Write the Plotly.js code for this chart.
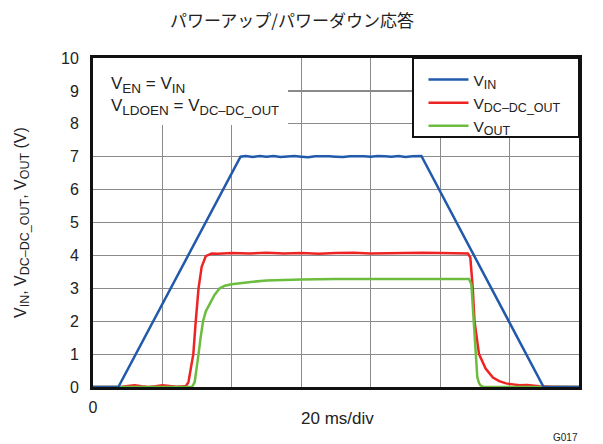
<!DOCTYPE html>
<html>
<head>
<meta charset="utf-8">
<script src="https://cdn.plot.ly/plotly-3.0.1.min.js"></script>
<style>html,body{margin:0;padding:0;background:#fff;}#chart{width:603px;height:444px;}</style>
</head>
<body>
<div id="chart"></div>
<script>
// time in ms (20 ms/div), voltage in V
var vinX = [0, 7.3, 42.5, 44, 46, 48, 50, 52, 54, 56, 58, 60, 62, 64, 66, 68, 70, 72, 74, 76, 78, 80, 82, 84, 86, 88, 90, 92, 94.6, 129.8, 140];
var vinY = [0, 0, 7.0, 7.02, 6.99, 7.02, 7.0, 7.02, 6.99, 7.01, 7.02, 7.0, 6.98, 7.01, 7.02, 7.01, 7.0, 6.99, 7.01, 7.02, 7.01, 7.0, 7.02, 7.01, 7.0, 7.02, 6.99, 7.01, 7.02, 0, 0];

var dcX = [0, 4, 8, 10, 12, 14, 16, 18, 20, 22, 24, 26, 26.8, 27.5, 28.1, 28.9, 29.6, 30.4, 31.3, 32.5, 34.2, 36, 40, 45, 50, 55, 60, 65, 70, 75, 80, 85, 90, 95, 100, 105, 108.0, 108.7, 109.4, 109.9, 111.2, 113.1, 115.2, 117, 119.0, 121, 122.9, 125, 128.6, 132, 140];
var dcY = [0, 0.01, 0, 0.03, 0.05, 0.02, 0, 0.02, 0.05, 0.03, 0.01, 0.02, 0.03, 0.15, 0.5, 1.0, 2.0, 3.0, 3.65, 3.98, 4.06, 4.05, 4.07, 4.06, 4.08, 4.06, 4.07, 4.05, 4.07, 4.08, 4.06, 4.07, 4.06, 4.08, 4.07, 4.06, 4.06, 3.93, 3.0, 2.0, 1.0, 0.56, 0.29, 0.18, 0.11, 0.08, 0.05, 0.06, 0.02, 0.01, 0];

var outX = [0, 28.5, 29.3, 29.8, 30.4, 31.0, 31.7, 32.5, 33.5, 35.0, 36.5, 38, 39.9, 43, 46.1, 50, 53.8, 60, 70, 80, 90, 100, 105, 108.3, 109.0, 109.7, 110.2, 110.7, 111.2, 111.6, 112.5, 140];
var outY = [0, 0, 0.15, 0.49, 1.0, 1.5, 2.0, 2.3, 2.52, 2.8, 3.0, 3.08, 3.12, 3.17, 3.2, 3.24, 3.26, 3.27, 3.28, 3.27, 3.28, 3.28, 3.28, 3.28, 3.12, 2.0, 1.0, 0.3, 0.12, 0.05, 0, 0];

function sub(t, px) { return '<sub><span style="font-size:' + px + 'px">' + t + '</span></sub>'; }

var seriesNames = ['V' + sub('IN', 12.5), 'V' + sub('DC\u2013DC_OUT', 12.5), 'V' + sub('OUT', 12.5)];
var xTickVals = [0, 20, 40, 60, 80, 100, 120, 140];
var xTickText = ['0', '', '', '', '', '', '', ''];
var yTickVals = [0, 1, 2, 3, 4, 5, 6, 7, 8, 9, 10];

var font = 'Liberation Sans, Arial, sans-serif';

var traces = [
  {x: dcX, y: dcY, name: seriesNames[1], mode: 'lines', line: {color: '#ee2424', width: 2.5}, legendrank: 2},
  {x: outX, y: outY, name: seriesNames[2], mode: 'lines', line: {color: '#6cbd3e', width: 2.5}, legendrank: 3},
  {x: vinX, y: vinY, name: seriesNames[0], mode: 'lines', line: {color: '#2159ab', width: 2.5}, legendrank: 1}
];

var layout = {
  width: 603, height: 444,
  margin: {l: 93, r: 24, t: 58, b: 57},
  paper_bgcolor: '#fff', plot_bgcolor: '#fff',
  font: {family: font, size: 16, color: '#222'},
  title: {text: 'パワーアップ/パワーダウン応答', x: 292/603, xanchor: 'center', xref: 'container', y: 1 - 21/444, yanchor: 'middle', yref: 'container',
          font: {family: 'Noto Sans CJK JP, sans-serif', size: 17, color: '#222'}},
  xaxis: {range: [0, 140], tickvals: xTickVals, ticktext: xTickText, showgrid: true, gridcolor: '#8a8a8a', gridwidth: 1.2,
          zeroline: false, showline: true, mirror: true, linecolor: '#111', linewidth: 3, ticks: 'outside', ticklen: 4,
          tickcolor: 'rgba(0,0,0,0)', tickfont: {size: 16}, fixedrange: true},
  yaxis: {range: [0, 10], tickvals: yTickVals, showgrid: true, gridcolor: '#8a8a8a', gridwidth: 1.2,
          zeroline: false, showline: true, mirror: true, linecolor: '#111', linewidth: 3, ticks: 'outside', ticklen: 8,
          tickcolor: 'rgba(0,0,0,0)', tickfont: {size: 16}, fixedrange: true},
  showlegend: true,
  legend: {x: 0.68, y: 0.985, xanchor: 'left', yanchor: 'top', bgcolor: 'rgba(0,0,0,0)', borderwidth: 0,
           font: {size: 15.5, color: '#222'}, itemwidth: 40, tracegroupgap: 0},
  shapes: [
    {type: 'rect', xref: 'paper', yref: 'paper', x0: 0, x1: (288-93)/486, y0: (387-125)/329, y1: 1,
     fillcolor: '#fff', line: {width: 0}, layer: 'above'},
    {type: 'rect', xref: 'paper', yref: 'paper', x0: (413-93)/486, x1: 1, y0: (387-137)/329, y1: 1,
     fillcolor: '#fff', line: {width: 2, color: '#111'}, layer: 'above'}
  ],
  annotations: [
    {xref: 'paper', yref: 'paper', x: (109-93)/486, y: (387-72)/329, xanchor: 'left', yanchor: 'top', align: 'left',
     text: 'V' + sub('EN', 13.5) + ' = V' + sub('IN', 13.5) + '<br>V' + sub('LDOEN', 13.5) + ' = V' + sub('DC\u2013DC_OUT', 13),
     showarrow: false, font: {size: 17, color: '#222'}},
    {xref: 'paper', yref: 'paper', x: (22-93)/486, y: (387-223)/329, xanchor: 'center', yanchor: 'middle', textangle: -90,
     text: 'V' + sub('IN', 12.5) + ', V' + sub('DC\u2013DC_OUT', 12.5) + ', V' + sub('OUT', 12.5) + ' (V)', showarrow: false, font: {size: 16, color: '#222'}},
    {xref: 'paper', yref: 'paper', x: (337-93)/486, y: (387-418)/329, xanchor: 'center', yanchor: 'middle',
     text: '20 ms/div', showarrow: false, font: {size: 17, color: '#222'}},
    {xref: 'paper', yref: 'paper', x: (580-93)/486, y: (387-437)/329, xanchor: 'right', yanchor: 'middle',
     text: 'G017', showarrow: false, font: {size: 10, color: '#222'}}
  ]
};

Plotly.newPlot('chart', traces, layout, {staticPlot: true, displayModeBar: false});
</script>
</body>
</html>
